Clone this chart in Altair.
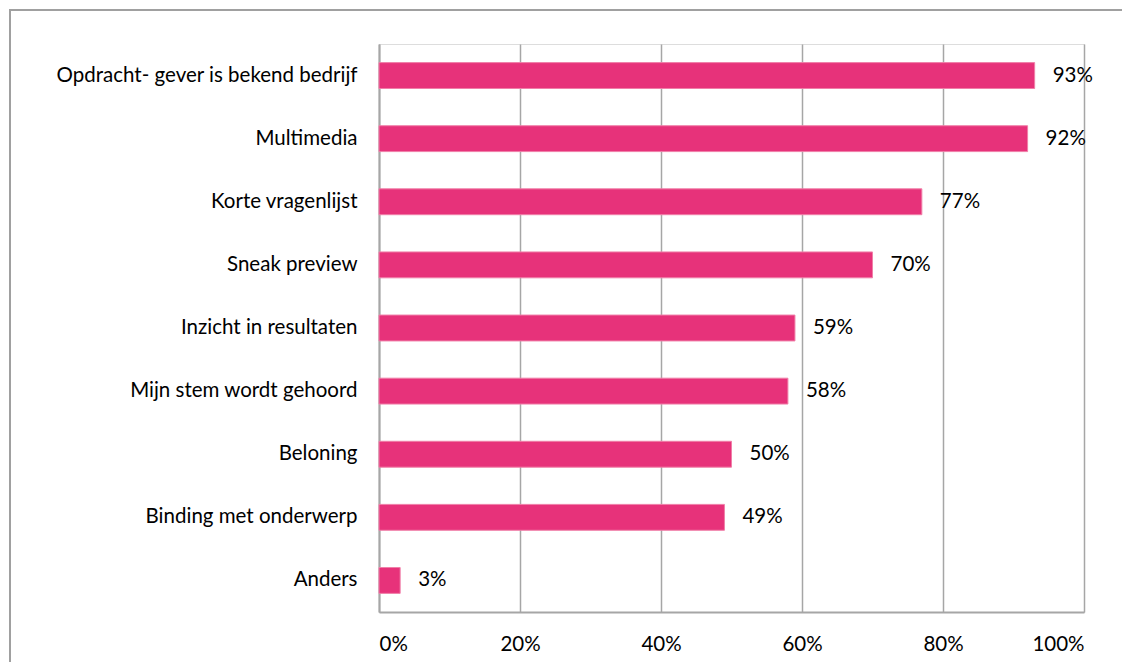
import altair as alt
import pandas as pd

categories = [
    "Opdracht- gever is bekend bedrijf",
    "Multimedia",
    "Korte vragenlijst",
    "Sneak preview",
    "Inzicht in resultaten",
    "Mijn stem wordt gehoord",
    "Beloning",
    "Binding met onderwerp",
    "Anders",
]
values = [0.93, 0.92, 0.77, 0.70, 0.59, 0.58, 0.50, 0.49, 0.03]
labels = ["93%", "92%", "77%", "70%", "59%", "58%", "50%", "49%", "3%"]

df = pd.DataFrame({"cat": categories, "val": values, "lab": labels})

FONT = "Lato"
FS = 20.5
GRAY = "#a6a6a6"

y_enc = alt.Y("cat:N", sort=None,
              scale=alt.Scale(paddingInner=0.59, paddingOuter=0.295),
              axis=alt.Axis(title=None, labelFontSize=FS, labelFont=FONT, labelColor="#000",
                            labelFontWeight="normal",
                            labelPadding=22, ticks=False, domainColor=GRAY, domainWidth=2,
                            labelLimit=400))
x_enc = alt.X("val:Q", scale=alt.Scale(domain=[0, 1], nice=False),
              axis=alt.Axis(title=None, format=".0%", values=[0, 0.2, 0.4, 0.6, 0.8, 1.0],
                            labelFontSize=FS, labelFont=FONT, labelColor="#000", labelPadding=22,
                            labelFontWeight="normal",
                            ticks=False, domainColor=GRAY, domainWidth=2,
                            grid=True, gridColor=GRAY, gridWidth=1.5))

bars = alt.Chart(df).mark_bar(color="#E7327A", stroke="#f07fa8", strokeWidth=1).encode(x=x_enc, y=y_enc)
text = alt.Chart(df).mark_text(align="left", baseline="middle", dx=18, fontSize=FS,
                               font=FONT, color="#000").encode(
    x="val:Q", y=alt.Y("cat:N", sort=None), text="lab:N")

border_top = alt.Chart(df).mark_rule(color="#a0a0a0", strokeWidth=2).encode(
    x=alt.value(-369), x2=alt.value(800), y=alt.value(-34))
border_left = alt.Chart(df).mark_rule(color="#a0a0a0", strokeWidth=2).encode(
    x=alt.value(-369), y=alt.value(-35), y2=alt.value(700))

chart = alt.layer(bars, text, border_top, border_left).properties(
    width=705, height=568,
    autosize=alt.AutoSizeParams(type="none"),
    padding={"left": 371, "top": 36, "right": 38, "bottom": 50},
).configure_view(stroke=GRAY, strokeWidth=2).configure(background="white")

chart.save("out.html", embed_options={"renderer": "svg", "actions": False})
